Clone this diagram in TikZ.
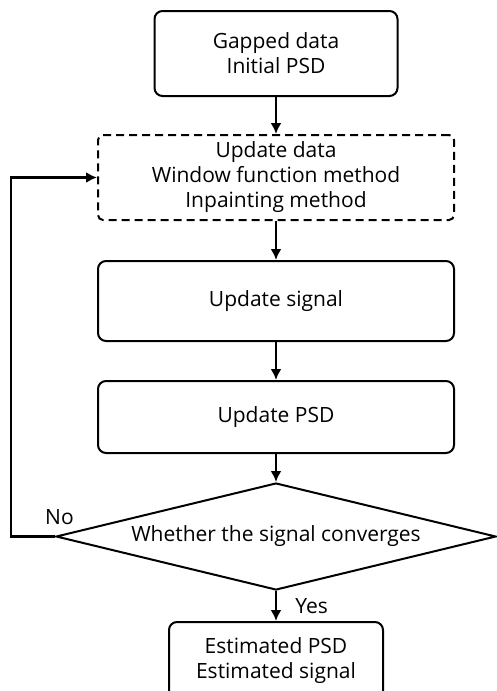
\documentclass[tikz,border=0pt]{standalone}
\usepackage{fontspec}
\setmainfont{Open Sans}
\usetikzlibrary{arrows.meta, positioning, shapes.geometric}
\tikzset{%
	proc/.style={draw, rectangle, rounded corners=8pt, line width=2pt, align=center,%
		inner sep=0mm, minimum width=356pt},
	dproc/.style={proc, dashed, dash pattern=on 8pt off 5pt, rounded corners=5pt},
	decide/.style={draw, diamond, aspect=4.1, line width=2pt, inner sep=0mm,%
		minimum width=440pt, minimum height=107pt},
	flow/.style={-{Latex[length=11pt,width=11pt]}, line width=2.6pt},
	lbl/.style={inner sep=0mm}
}

\begin{document}
\begin{tikzpicture}[font=\fontsize{21}{25}\selectfont]
	\useasboundingbox (0,0) rectangle (496pt,-691pt);

	%boxes
	\node[proc, minimum width=243pt, minimum height=85pt] (start) at (276pt,-53.5pt) {Gapped data\\Initial PSD};
	\node[dproc, minimum height=85pt, below=37pt of start] (upd) {Update data\\Window function method\\Inpainting method};
	\node[proc, minimum height=80pt, below=39pt of upd] (sig) {Update signal};
	\node[proc, minimum height=72pt, below=38pt of sig] (psd) {Update PSD};
	\node[decide, below=28pt of psd] (conv) {Whether the signal converges};
	\node[proc, minimum width=214pt, minimum height=78pt, below=30pt of conv] (est) {Estimated PSD\\Estimated signal};

	\draw[flow] (start) -- (upd);
	\draw[flow] (upd) -- (sig);
	\draw[flow] (sig) -- (psd);
	\draw[flow] (psd) -- (conv);
	\draw[flow] (conv) -- node[lbl, right=18pt]{Yes} (est);

	%loop back
	\draw[flow] (conv.west) -- ++(-44pt,0) coordinate (corner) |- (upd.west);
	\node[lbl, above right=12pt and 34pt of corner] {No};

\end{tikzpicture}
\end{document}
